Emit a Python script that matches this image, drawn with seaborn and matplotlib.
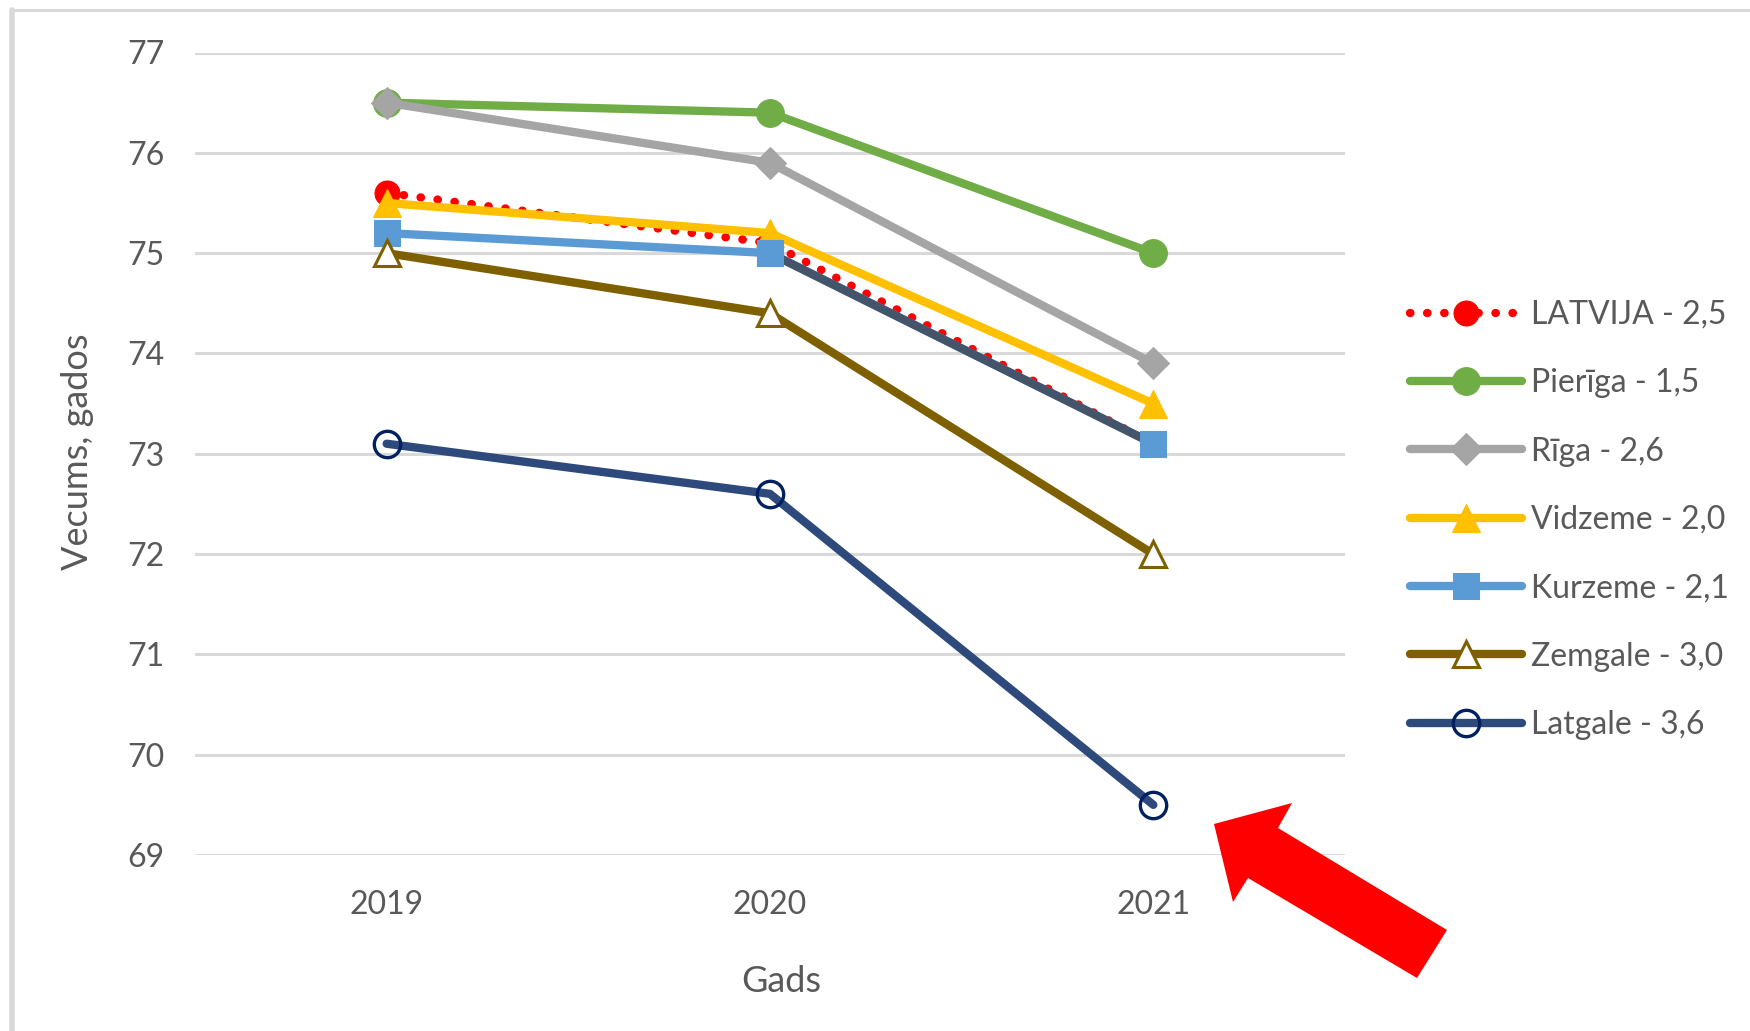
import matplotlib
matplotlib.use("Agg")
import matplotlib.pyplot as plt
import seaborn as sns
import pandas as pd
from matplotlib.lines import Line2D
from matplotlib.patches import Polygon

# ==========================================
# DATA
# ==========================================
years = ["2019", "2020", "2021"]
latvija = [75.6, 75.1, 73.1]
pieriga = [76.5, 76.4, 75.0]
riga = [76.5, 75.9, 73.9]
vidzeme = [75.5, 75.2, 73.5]
kurzeme = [75.2, 75.0, 73.1]
zemgale = [75.0, 74.4, 72.0]
latgale = [73.1, 72.6, 69.5]
labels = ["LATVIJA - 2,5", "Pierīga - 1,5", "Rīga - 2,6", "Vidzeme - 2,0",
          "Kurzeme - 2,1", "Zemgale - 3,0", "Latgale - 3,6"]
# ==========================================

W, H = 1750, 1031
TXT = "#595959"
GRID = "#D9D9D9"
FS = 23

sns.set_style("white")
plt.rcParams["font.family"] = ["Lato", "DejaVu Sans"]

fig = plt.figure(figsize=(W / 100, H / 100), dpi=100)
ax = fig.add_axes([195 / W, 1 - 855 / H, 1150 / W, 802.5 / H])

x = list(range(len(years)))
lw = 6.0

styles = [
    (latvija, dict(color="#FF0000", linestyle=(0, (0.05, 2.0)), dash_capstyle="round",
                   marker="o", markersize=18, markerfacecolor="#FF0000", markeredgecolor="#FF0000")),
    (pieriga, dict(color="#70AD47", marker="o", markersize=20,
                   markerfacecolor="#70AD47", markeredgecolor="#70AD47")),
    (riga, dict(color="#A5A5A5", marker="D", markersize=16,
                markerfacecolor="#A5A5A5", markeredgecolor="#A5A5A5")),
    (vidzeme, dict(color="#FFC000", marker="^", markersize=20,
                   markerfacecolor="#FFC000", markeredgecolor="#FFC000")),
    (kurzeme, dict(color="#5B9BD5", marker="s", markersize=19,
                   markerfacecolor="#5B9BD5", markeredgecolor="#5B9BD5")),
    (zemgale, dict(color="#7F6000", marker="^", markersize=19, markeredgewidth=2.2,
                   markerfacecolor="white", markeredgecolor="#7F6000")),
    (latgale, dict(color="#2E4A7D", marker="o", markersize=19, markeredgewidth=2.4,
                   markerfacecolor="none", markeredgecolor="#002060")),
]

handles = []
for i, (vals, kw) in enumerate(styles):
    df = pd.DataFrame({"x": x, "y": vals})
    sns.lineplot(data=df, x="x", y="y", ax=ax, zorder=3 + i,
                 solid_capstyle="round", **kw)
    handles.append(ax.lines[-1])
    if vals is kurzeme:
        # second Kurzeme segment is drawn in dark slate in the source chart
        seg = pd.DataFrame({"x": x[1:], "y": vals[1:]})
        sns.lineplot(data=seg, x="x", y="y", ax=ax, color="#44546A",
                     zorder=3 + i, solid_capstyle="round")
        sns.lineplot(data=seg, x="x", y="y", ax=ax, linestyle="none", marker="s",
                     markersize=19, markerfacecolor="#5B9BD5",
                     markeredgecolor="#5B9BD5", zorder=3 + i)

for ln in ax.lines:
    ln.set_linewidth(lw)

ax.set_xlim(-0.5, 2.5)
ax.set_ylim(69, 77)
ax.set_xticks(x)
ax.set_xticklabels(years)
ax.set_yticks(range(69, 78))
ax.yaxis.grid(True, color=GRID, linewidth=2.2)
ax.set_axisbelow(True)
for s in ax.spines.values():
    s.set_visible(False)
ax.tick_params(axis="both", length=0, labelsize=FS, labelcolor=TXT)
ax.tick_params(axis="y", pad=22)
ax.tick_params(axis="x", pad=25)
ax.set_xlabel("")
ax.set_ylabel("")

fig.text(781 / W, 1 - 982 / H, "Gads", ha="center", va="center", fontsize=26, color=TXT)
fig.text(78 / W, 1 - 452 / H, "Vecums, gados", ha="center", va="center",
         rotation=90, fontsize=26, color=TXT)

leg = fig.legend(handles, labels, loc="upper left",
                 bbox_to_anchor=(1410 / W, 1 - 300 / H), frameon=False,
                 fontsize=FS, labelcolor=TXT, handlelength=3.5, handletextpad=0.3,
                 labelspacing=1.2, borderaxespad=0, borderpad=0)

# chart frame (left and top edges only)
fig.add_artist(Line2D([12 / W, 12 / W], [0, 1 - 10 / H], transform=fig.transFigure,
                      color=GRID, linewidth=4))
fig.add_artist(Line2D([12 / W, 1], [1 - 10 / H, 1 - 10 / H], transform=fig.transFigure,
                      color=GRID, linewidth=2.2))

# red arrow annotation
arrow_px = [(1214, 824), (1292, 803), (1278, 828), (1447, 930),
            (1417, 978), (1248, 878), (1233, 902)]
fig.add_artist(Polygon([(px / W, 1 - py / H) for px, py in arrow_px], closed=True,
                       transform=fig.transFigure, facecolor="#FF0000",
                       edgecolor="none", zorder=10))

fig.savefig("out.png", dpi=100, facecolor="white")
